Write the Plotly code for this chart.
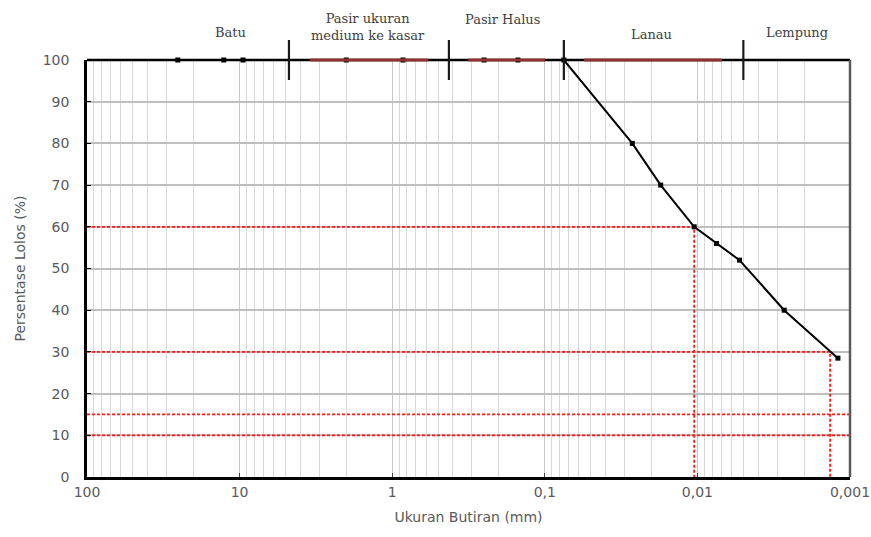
import math
import plotly.graph_objects as go

# ---- data ----
grain_size_mm = [25.4, 12.7, 9.5, 2.0, 0.85, 0.25, 0.15, 0.075,
                 0.0267, 0.0174, 0.0105, 0.0075, 0.0053, 0.0027, 0.0012]
percent_passing = [100, 100, 100, 100, 100, 100, 100, 100,
                   80, 70, 60, 56, 52, 40, 28.5]

ref_levels = [60, 30, 15, 10]
ref_sizes = [0.0105, 0.00135, None, None]

class_bounds = [4.75, 0.425, 0.075, 0.005]
class_bands = [(3.46, 0.58), (0.318, 0.0998), (0.0553, 0.0069)]
class_labels = ["Batu", "Pasir ukuran<br>medium ke kasar", "Pasir Halus", "Lanau", "Lempung"]
class_label_x = [11.55, 1.44, 0.188, 0.0199, 0.00222]
class_label_y = [1.065, 1.078, 1.096, 1.060, 1.067]

x_ticks = [100, 10, 1, 0.1, 0.01, 0.001]
x_tick_text = ["100", "10", "1", "0,1", "0,01", "0,001"]
y_ticks = list(range(0, 101, 10))

minor_vals = [m * 10 ** e for e in range(-3, 2) for m in range(2, 10)]

fig = go.Figure()

RED = "#ff1a1a"
# reference lines
for lvl, xs in zip(ref_levels, ref_sizes):
    if xs is None:
        fig.add_trace(go.Scatter(x=[100, 0.001], y=[lvl, lvl], mode="lines",
                                 line=dict(color=RED, width=1.8, dash="3px,2px"),
                                 hoverinfo="skip", showlegend=False))
    else:
        fig.add_trace(go.Scatter(x=[100, xs, xs], y=[lvl, lvl, 0], mode="lines",
                                 line=dict(color=RED, width=1.8, dash="3px,2px"),
                                 hoverinfo="skip", showlegend=False))

# top classification band (shapes so they can extend above the plot)
fig.add_shape(type="line", xref="paper", yref="paper",
              x0=0, x1=1, y0=1, y1=1,
              line=dict(color="black", width=2.5), layer="above")
for a, b in class_bands:
    fig.add_shape(type="line", xref="x", yref="paper",
                  x0=a, x1=b, y0=1, y1=1,
                  line=dict(color="#8e3330", width=3), layer="above")
for bnd in class_bounds:
    fig.add_shape(type="line", xref="x", yref="paper",
                  x0=bnd, x1=bnd, y0=0.952, y1=1.048,
                  line=dict(color="#1a1a1a", width=2.2), layer="above")

# right border
fig.add_shape(type="line", xref="paper", yref="paper", x0=1, x1=1, y0=0, y1=1,
              line=dict(color="#595959", width=2.5), layer="above")

# gradation curve
fig.add_trace(go.Scatter(x=grain_size_mm, y=percent_passing, mode="lines+markers",
                         line=dict(color="black", width=2),
                         marker=dict(symbol="square", size=5, color="black"),
                         showlegend=False, cliponaxis=False))

for txt, lx, ly in zip(class_labels, class_label_x, class_label_y):
    fig.add_annotation(x=math.log10(lx), y=ly, xref="x", yref="paper", text=txt,
                       showarrow=False, xanchor="center", yanchor="middle",
                       font=dict(family="DejaVu Serif", size=13, color="#404040"))

fig.update_layout(
    width=871, height=537,
    margin=dict(l=87, r=21, t=60, b=60),
    paper_bgcolor="white", plot_bgcolor="white",
    font=dict(family="DejaVu Sans", size=14, color="#595959"),
    xaxis=dict(type="log", range=[2, -3], tickvals=x_ticks, ticktext=x_tick_text,
               showgrid=True, gridcolor="#c8c8c8", gridwidth=1,
               showline=True, linecolor="black", linewidth=2.5,
               ticks="inside", ticklen=4, tickcolor="#404040",
               zeroline=False, automargin=False,
               minor=dict(tickvals=minor_vals, showgrid=True, gridcolor="#d8d8d8",
                          gridwidth=1, ticks=""),
               title=dict(text="Ukuran Butiran (mm)", standoff=14,
                          font=dict(size=14, color="#595959"))),
    yaxis=dict(range=[0, 100], tickvals=y_ticks, showgrid=True,
               gridcolor="#bfbfbf", gridwidth=1.5,
               showline=True, linecolor="black", linewidth=2.5,
               ticks="inside", ticklen=4, tickcolor="black",
               ticklabelstandoff=12, zeroline=False, automargin=False,
               title=dict(text="Persentase Lolos (%)", standoff=14,
                          font=dict(size=14, color="#595959"))),
)

fig.write_html("out.html")
